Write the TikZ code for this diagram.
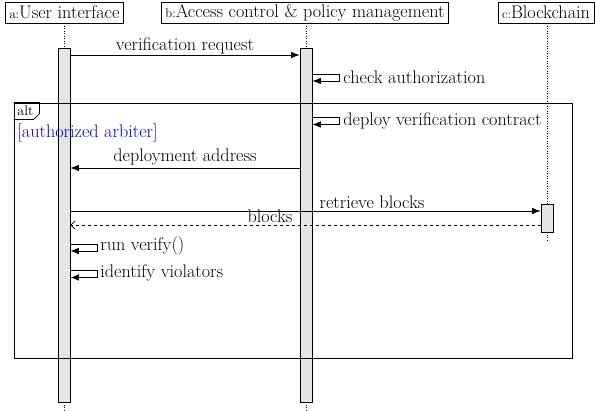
\documentclass[tikz,border=0pt]{standalone}
\usepackage{fontspec}
\usetikzlibrary{arrows.meta}
\begin{document}
\begin{tikzpicture}[x=1pt,y=-1pt, font=\fontsize{18.2}{21}\selectfont, line width=0.75pt,
 obj/.style={draw, inner xsep=4pt, inner ysep=0pt, minimum height=21pt},
 actbar/.style={draw, fill=gray!20, minimum width=12pt, inner sep=0pt},
 life/.style={dotted, line width=0.5pt},
 msg/.style={-{Latex[length=8.5pt,width=6.5pt]}},
 ret/.style={dashed, -{Straight Barb[length=4pt,width=8pt]}},
 lbl/.style={inner sep=1pt, anchor=south},
 selflbl/.style={anchor=west, inner sep=0pt},
 smallfont/.style={font=\fontsize{14}{16}\selectfont}]
\useasboundingbox (0,0) rectangle (595,411);
% objects
\node[obj] (A) at (64.5,12.5) {{\fontsize{12.7}{14}\selectfont a:}User interface};
\node[obj] (B) at (305,12.5) {{\fontsize{12.7}{14}\selectfont b:}Access control \& policy management};
\node[obj] (C) at (546,12.5) {{\fontsize{12.7}{14}\selectfont c:}Blockchain};
% activation bars
\node[actbar, minimum height=354pt] (barA) at (64,225) {};
\node[actbar, minimum height=354pt] (barB) at (306,225) {};
\node[actbar, minimum height=28pt] (barC) at (547,218) {};
% lifelines
\draw[life] (A.south -| barA) -- (barA.north);
\draw[life] (barA.south) -- ++(0,8);
\draw[life] (B.south -| barB) -- (barB.north);
\draw[life] (barB.south) -- ++(0,8);
\draw[life] (C.south -| barC) -- (barC.north);
\draw[life] (barC.south) -- ++(0,8);
% alt frame
\node[draw, line width=0.95pt, minimum width=558pt, minimum height=255pt, inner sep=0pt] (frame) at (293,230.5) {};
\coordinate (tagA) at (frame.north west);
\draw (tagA) -- ++(26,0) -- ++(0,11) -- ++(-6,6) -- ++(-20,0);
\node[smallfont, inner sep=0pt] (alttag) at (25.5,110.5) {alt};
\node[anchor=west, inner sep=0pt, text=blue] (guard) at (17,133) {[authorized arbiter]};
% messages
\coordinate (m1a) at (barA.east |- 0,55);
\coordinate (m1b) at (barB.west |- 0,55);
\draw[msg] (m1a) -- node[lbl] (l1) {verification request} (m1b);

\coordinate (s1) at (barB.east |- 0,74);
\coordinate (s1e) at (barB.east |- 0,81);
\draw[msg] (s1) -- ++(27,0) -- ++(0,7) -- (s1e);
\node[selflbl] (l2) at (343,77.5) {check authorization};

\coordinate (s2) at (barB.east |- 0,117);
\coordinate (s2e) at (barB.east |- 0,124.5);
\draw[msg] (s2) -- ++(27,0) -- ++(0,7.5) -- (s2e);
\node[selflbl] (l3) at (343,121) {deploy verification contract};

\coordinate (m4b) at (barB.west |- 0,168);
\coordinate (m4a) at (barA.east |- 0,168);
\draw[msg] (m4b) -- (m4a);
\node[lbl] (l4) at (185,167) {deployment address};

\coordinate (m5a) at (barA.east |- 0,211);
\coordinate (m5c) at (barC.west |- 0,211);
\draw[msg] (m5a) -- (m5c);
\node[lbl] (l5) at (372,210) {retrieve blocks};

\coordinate (m6c) at (barC.west |- 0,225);
\coordinate (m6a) at (barA.east |- 0,225);
\draw[ret] (m6c) -- (m6a);
\node[lbl] (l6) at (270,224.5) {blocks};

\coordinate (s3) at (barA.east |- 0,244);
\coordinate (s3e) at (barA.east |- 0,251);
\draw[msg] (s3) -- ++(27,0) -- ++(0,7) -- (s3e);
\node[selflbl] (l7) at (100,246) {run verify()};

\coordinate (s4) at (barA.east |- 0,270.5);
\coordinate (s4e) at (barA.east |- 0,277.5);
\draw[msg] (s4) -- ++(27,0) -- ++(0,7) -- (s4e);
\node[selflbl] (l8) at (100,273) {identify violators};
\end{tikzpicture}
\end{document}
